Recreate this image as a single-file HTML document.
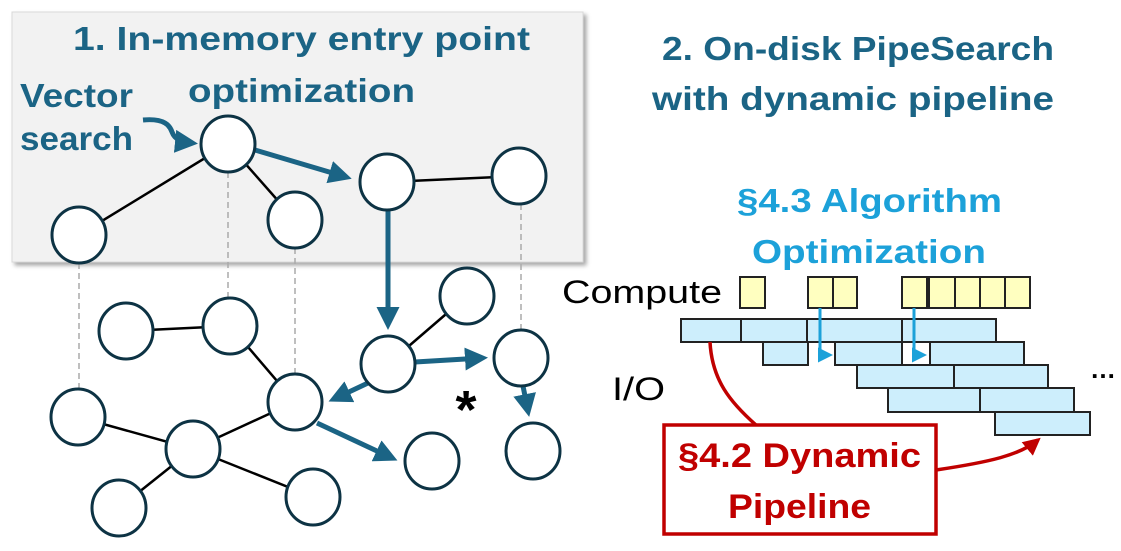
<!DOCTYPE html>
<html><head><meta charset="utf-8"><style>
html,body{margin:0;padding:0;background:#fff;}
svg{display:block;}
text{font-family:"Liberation Sans",sans-serif;font-weight:bold;}
</style></head><body>
<svg width="1121" height="551" viewBox="0 0 1121 551" xmlns="http://www.w3.org/2000/svg">
<defs>
<filter id="sh" x="-5%" y="-5%" width="112%" height="112%"><feDropShadow dx="3" dy="3" stdDeviation="2" flood-color="#000" flood-opacity="0.35"/></filter>
<marker id="ab" markerWidth="4.6" markerHeight="4.6" refX="3.4" refY="2.3" orient="auto" markerUnits="strokeWidth"><path d="M0,0 L4.6,2.3 L0,4.6 z" fill="#1b6485"/></marker>
<marker id="ac" markerWidth="5" markerHeight="5" refX="4" refY="2.5" orient="auto" markerUnits="strokeWidth"><path d="M0,0 L5,2.5 L0,5 z" fill="#1ca1d9"/></marker>
<marker id="ar" markerWidth="5" markerHeight="5" refX="4" refY="2.5" orient="auto" markerUnits="strokeWidth"><path d="M0,0 L5,2.5 L0,5 z" fill="#c00000"/></marker>
</defs>
<rect x="12" y="12" width="571" height="250" fill="#f2f2f2" stroke="#d9d9d9" stroke-width="1" filter="url(#sh)"/>

<text x="73" y="50" font-size="33" fill="#1b6485" textLength="457" lengthAdjust="spacingAndGlyphs">1. In-memory entry point</text>
<text x="188" y="102" font-size="33" fill="#1b6485" textLength="227" lengthAdjust="spacingAndGlyphs">optimization</text>
<text x="20" y="107" font-size="33" fill="#1b6485" textLength="113" lengthAdjust="spacingAndGlyphs">Vector</text>
<text x="20" y="150" font-size="33" fill="#1b6485" textLength="113" lengthAdjust="spacingAndGlyphs">search</text>
<path d="M143,120 C165,118 170,126 172,132 C175,140 182,142 192,143" fill="none" stroke="#1b6485" stroke-width="5" marker-end="url(#ab)"/>

<g stroke="#aaa" stroke-width="1.5" stroke-dasharray="6,4">
<line x1="79" y1="263" x2="79" y2="389"/>
<line x1="228" y1="172" x2="228" y2="298"/>
<line x1="295" y1="248" x2="295" y2="374"/>
<line x1="521" y1="204" x2="521" y2="330"/>
</g>

<g stroke="#000" stroke-width="2.5">
<line x1="79" y1="235" x2="228" y2="144"/>
<line x1="228" y1="144" x2="295" y2="220"/>
<line x1="387" y1="182" x2="519" y2="176"/>
<line x1="126" y1="331" x2="230" y2="326"/>
<line x1="230" y1="326" x2="295" y2="402"/>
<line x1="388" y1="364" x2="467" y2="296"/>
<line x1="78" y1="417" x2="193" y2="449"/>
<line x1="193" y1="449" x2="295" y2="402"/>
<line x1="193" y1="449" x2="119" y2="508"/>
<line x1="193" y1="449" x2="313" y2="497"/>
</g>

<g stroke="#1b6485" stroke-width="5" fill="none">
<line x1="255" y1="150" x2="346" y2="177" marker-end="url(#ab)"/>
<line x1="388" y1="210" x2="388" y2="324" marker-end="url(#ab)"/>
<line x1="415" y1="362" x2="482" y2="358" marker-end="url(#ab)"/>
<line x1="368" y1="383" x2="334" y2="399" marker-end="url(#ab)"/>
<line x1="317" y1="423" x2="392" y2="458" marker-end="url(#ab)"/>
<line x1="523" y1="386" x2="528" y2="411" marker-end="url(#ab)"/>
</g>

<g fill="#fff" stroke="#0d3344" stroke-width="3">
<ellipse cx="228" cy="144" rx="27" ry="28"/>
<ellipse cx="387" cy="182" rx="27" ry="28"/>
<ellipse cx="519" cy="176" rx="27" ry="28"/>
<ellipse cx="79" cy="235" rx="27" ry="28"/>
<ellipse cx="295" cy="220" rx="27" ry="28"/>
<ellipse cx="126" cy="331" rx="27" ry="28"/>
<ellipse cx="230" cy="326" rx="27" ry="28"/>
<ellipse cx="467" cy="296" rx="27" ry="28"/>
<ellipse cx="388" cy="364" rx="27" ry="28"/>
<ellipse cx="521" cy="358" rx="27" ry="28"/>
<ellipse cx="295" cy="402" rx="27" ry="28"/>
<ellipse cx="78" cy="417" rx="27" ry="28"/>
<ellipse cx="193" cy="449" rx="27" ry="28"/>
<ellipse cx="432" cy="461" rx="27" ry="28"/>
<ellipse cx="533" cy="451" rx="27" ry="28"/>
<ellipse cx="119" cy="508" rx="27" ry="28"/>
<ellipse cx="313" cy="497" rx="27" ry="28"/>
</g>
<text x="466" y="428" font-size="54" fill="#000" text-anchor="middle">*</text>

<text x="662" y="60" font-size="33" fill="#1b6485" textLength="392" lengthAdjust="spacingAndGlyphs">2. On-disk PipeSearch</text>
<text x="652" y="110" font-size="33" fill="#1b6485" textLength="402" lengthAdjust="spacingAndGlyphs">with dynamic pipeline</text>
<text x="737" y="212" font-size="33" fill="#1ca1d9" textLength="265" lengthAdjust="spacingAndGlyphs">§4.3 Algorithm</text>
<text x="752" y="263" font-size="33" fill="#1ca1d9" textLength="234" lengthAdjust="spacingAndGlyphs">Optimization</text>

<text x="562" y="303" font-size="32" fill="#000" style="font-weight:normal" textLength="160" lengthAdjust="spacingAndGlyphs">Compute</text>
<text x="612" y="400" font-size="32" fill="#000" style="font-weight:normal" textLength="53" lengthAdjust="spacingAndGlyphs">I/O</text>
<text x="1090" y="378" font-size="26" fill="#000">…</text>

<g fill="#ffffc0" stroke="#222" stroke-width="2">
<rect x="740" y="277" width="25" height="31"/>
<rect x="808" y="277" width="25" height="31"/>
<rect x="833" y="277" width="24" height="31"/>
<rect x="902" y="277" width="25" height="31"/>
<rect x="929" y="277" width="26" height="31"/>
<rect x="955" y="277" width="25" height="31"/>
<rect x="980" y="277" width="25" height="31"/>
<rect x="1005" y="277" width="25" height="31"/>
</g>
<g fill="#cdeefc" stroke="#222" stroke-width="2">
<rect x="681" y="319" width="60" height="23"/>
<rect x="741" y="319" width="66" height="23"/>
<rect x="807" y="319" width="95" height="23"/>
<rect x="902" y="319" width="94" height="23"/>
<rect x="763" y="342" width="45" height="23"/>
<rect x="835" y="342" width="67" height="23"/>
<rect x="930" y="342" width="94" height="23"/>
<rect x="857" y="365" width="97" height="23"/>
<rect x="954" y="365" width="94" height="23"/>
<rect x="888" y="388" width="92" height="24"/>
<rect x="980" y="388" width="94" height="24"/>
<rect x="995" y="412" width="95" height="23"/>
</g>
<g stroke="#1ca1d9" stroke-width="3" fill="none">
<path d="M820,308 L820,355 L830,355" marker-end="url(#ac)"/>
<path d="M914,308 L914,355 L924,355" marker-end="url(#ac)"/>
</g>

<path d="M710,342 C712,380 730,402 756,425" fill="none" stroke="#c00000" stroke-width="3.5"/>
<path d="M936,470 C990,462 1020,455 1038,440" fill="none" stroke="#c00000" stroke-width="3.5" marker-end="url(#ar)"/>
<rect x="664" y="425" width="272" height="109" fill="#fff" stroke="#c00000" stroke-width="3.5"/>
<text x="678" y="467" font-size="34" fill="#c00000" textLength="243" lengthAdjust="spacingAndGlyphs">§4.2 Dynamic</text>
<text x="728" y="518" font-size="34" fill="#c00000" textLength="143" lengthAdjust="spacingAndGlyphs">Pipeline</text>
</svg>
</body></html>
